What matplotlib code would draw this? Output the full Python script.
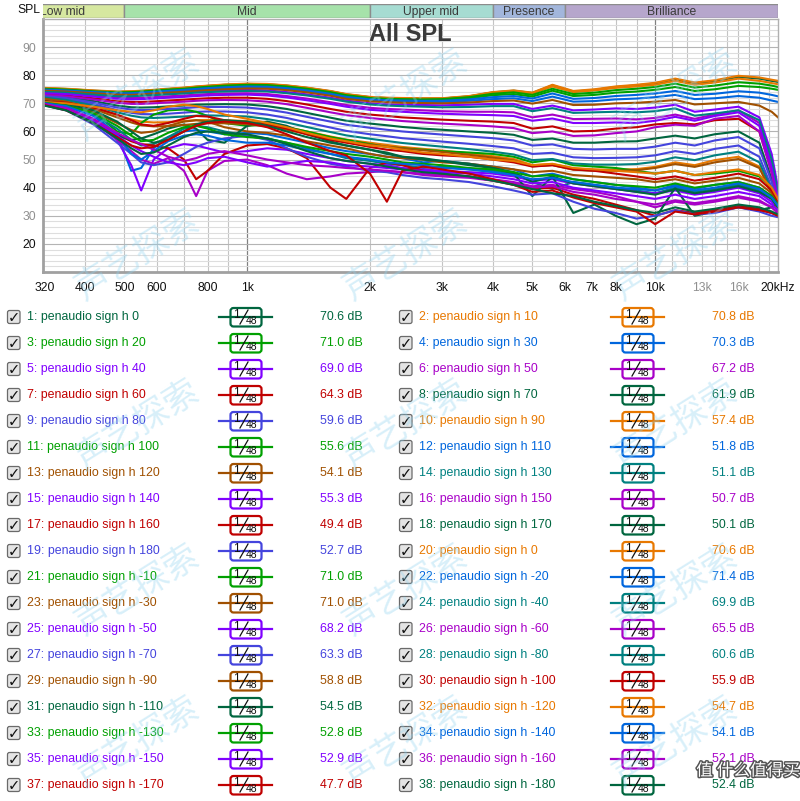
import matplotlib
matplotlib.use("Agg")
import matplotlib.pyplot as plt
import matplotlib.patheffects as pe
from matplotlib.patches import FancyBboxPatch, Rectangle
from matplotlib.lines import Line2D

plt.rcParams['font.family'] = ['Liberation Sans', 'DejaVu Sans']

# ---- data ----
freqs = [316, 360, 420, 480, 520, 550, 590, 640, 700, 750,
         800, 880, 1000, 1120, 1250, 1400, 1600, 1750, 2000, 2200,
         2400, 2700, 3000, 3500, 4000, 4500, 5000, 5600, 6300, 7100,
         8000, 9000, 10000, 11200, 12500, 14000, 16000, 18000, 19300, 20000]

angles = [0, 10, 20, 30, 40, 50, 60, 70, 80, 90, 100, 110, 120, 130, 140, 150, 160, 170, 180,
          0, -10, -20, -30, -40, -50, -60, -70, -80, -90, -100, -110, -120, -130, -140, -150,
          -160, -170, -180]

avg_db = [70.6, 70.8, 71.0, 70.3, 69.0, 67.2, 64.3, 61.9, 59.6, 57.4, 55.6, 51.8, 54.1,
          51.1, 55.3, 50.7, 49.4, 50.1, 52.7, 70.6, 71.0, 71.4, 71.0, 69.9, 68.2, 65.5,
          63.3, 60.6, 58.8, 55.9, 54.5, 54.7, 52.8, 54.1, 52.9, 52.1, 47.7, 52.4]

DG, OR, GR, BL = '#00663f', '#e87800', '#00a000', '#0066dd'
VI, MA, RD, BV = '#8000ff', '#a800c8', '#c00000', '#4444dd'
BR, TE = '#a05000', '#008080'
trace_colors = [DG, OR, GR, BL, VI, MA, RD, DG, BV, OR, GR, BL, BR, TE, VI, MA, RD, DG, BV,
                OR, GR, BL, BR, TE, VI, MA, BV, TE, BR, RD, DG, OR, GR, BL, VI, MA, RD, DG]

h0 = [75.4, 75.1, 74.5, 74.1, 74.2, 74.4, 74.7, 75.1, 75.5, 75.9,
      76.2, 76.6, 76.9, 76.8, 76.3, 75.5, 74.3, 73.2, 72.2, 71.9,
      71.8, 71.7, 71.7, 72.5, 73.9, 74.5, 73.7, 76.4, 74.2, 74.8,
      75.8, 76.4, 77.1, 78.5, 77.1, 77.9, 79.4, 78.8, 78.0, 77.6]
h10 = [75.3, 75.0, 74.4, 74.0, 74.1, 74.3, 74.6, 75.0, 75.4, 75.8,
       76.1, 76.5, 76.8, 76.7, 76.2, 75.4, 74.2, 73.1, 72.1, 71.8,
       71.7, 71.6, 71.7, 72.4, 73.8, 74.3, 73.5, 76.0, 74.0, 74.6,
       75.5, 76.0, 76.6, 78.0, 76.6, 77.4, 78.8, 78.0, 77.2, 76.8]
h20 = [75.0, 74.7, 74.1, 73.7, 73.8, 74.0, 74.3, 74.6, 75.0, 75.4,
       75.7, 76.0, 76.3, 76.2, 75.7, 74.9, 73.7, 72.6, 71.7, 71.4,
       71.3, 71.2, 71.2, 71.8, 72.9, 73.3, 72.4, 74.5, 72.6, 73.0,
       73.8, 74.2, 74.8, 75.8, 74.4, 75.0, 76.2, 75.8, 75.2, 74.8]
h30 = [74.7, 74.4, 73.8, 73.3, 73.3, 73.5, 73.8, 74.1, 74.4, 74.7,
       75.0, 75.3, 75.6, 75.5, 75.0, 74.2, 73.0, 71.9, 71.0, 70.7,
       70.6, 70.5, 70.5, 70.9, 71.5, 71.8, 70.8, 72.4, 70.6, 70.8,
       71.4, 71.7, 72.2, 73.0, 71.5, 71.8, 72.6, 72.0, 71.0, 70.5]
h40 = [74.3, 74.0, 73.3, 72.8, 72.8, 73.0, 73.2, 73.5, 73.8, 74.1,
       74.3, 74.6, 74.8, 74.6, 74.0, 73.2, 72.0, 71.0, 70.0, 69.6,
       69.5, 69.4, 69.3, 69.5, 69.8, 69.8, 68.0, 69.2, 67.5, 67.8,
       68.2, 68.0, 68.5, 69.5, 67.0, 67.8, 68.8, 65.0, 52.0, 40.0]
h50 = [73.8, 73.5, 72.7, 72.0, 71.9, 72.0, 72.2, 72.5, 72.8, 73.1,
       73.3, 73.5, 73.6, 73.3, 72.6, 71.7, 70.4, 69.4, 68.4, 68.0,
       67.8, 67.5, 67.2, 67.0, 67.0, 66.8, 65.0, 66.0, 64.4, 64.5,
       64.6, 64.3, 64.8, 66.0, 64.5, 66.0, 67.5, 63.0, 48.0, 37.0]
h60 = [73.2, 72.8, 71.8, 70.8, 70.5, 70.5, 70.7, 71.0, 71.3, 71.6,
       71.8, 72.0, 72.0, 71.6, 70.8, 69.6, 68.0, 67.0, 66.0, 65.5,
       65.0, 64.6, 64.2, 63.8, 63.5, 63.0, 61.0, 61.8, 60.0, 60.2,
       61.0, 61.5, 62.5, 63.0, 62.5, 64.0, 64.5, 60.0, 46.0, 35.0]
h70 = [72.8, 72.2, 70.8, 69.2, 68.6, 68.5, 68.6, 68.9, 69.2, 69.5,
       69.6, 69.7, 69.6, 69.0, 68.0, 66.6, 64.9, 63.8, 62.8, 62.2,
       61.6, 61.0, 60.6, 60.0, 59.5, 58.8, 57.0, 57.5, 56.0, 56.0,
       56.4, 56.5, 57.5, 58.5, 57.5, 59.0, 60.0, 56.0, 43.0, 34.0]
h80 = [72.3, 71.5, 69.7, 67.6, 66.6, 66.2, 66.1, 66.3, 66.7, 67.0,
       67.1, 67.1, 66.8, 66.0, 64.8, 63.2, 61.4, 60.2, 59.0, 58.3,
       57.6, 57.0, 56.4, 55.6, 54.8, 54.0, 52.0, 52.4, 50.8, 50.5,
       50.6, 50.8, 51.5, 53.0, 52.0, 53.8, 55.0, 51.0, 40.0, 33.0]
h90 = [71.9, 70.9, 68.6, 65.8, 64.3, 63.5, 63.2, 63.3, 63.7, 64.0,
       64.1, 64.0, 63.7, 62.8, 61.6, 60.0, 58.2, 57.1, 56.0, 55.2,
       54.5, 53.8, 53.2, 52.2, 51.2, 50.2, 48.0, 48.4, 46.8, 46.4,
       46.4, 46.6, 47.4, 49.0, 48.0, 49.8, 51.0, 47.5, 38.5, 32.0]
h100 = [71.0, 70.0, 67.0, 60.0, 59.0, 63.0, 66.0, 67.5, 67.8, 67.0,
        65.5, 63.0, 62.0, 62.5, 61.5, 60.0, 58.0, 57.0, 55.5, 54.5,
        54.0, 53.5, 53.0, 52.5, 52.0, 51.0, 49.0, 50.0, 48.0, 47.5,
        47.0, 46.0, 45.0, 46.0, 44.5, 45.0, 46.0, 44.0, 40.0, 36.0]
h110 = [70.5, 69.5, 66.0, 59.0, 46.0, 47.0, 54.0, 58.0, 60.0, 60.5,
        60.0, 59.0, 59.5, 59.0, 57.5, 56.0, 54.0, 53.0, 52.0, 51.0,
        50.5, 49.0, 49.5, 48.5, 47.5, 46.5, 44.0, 45.0, 43.0, 42.0,
        41.0, 40.0, 39.0, 41.0, 39.5, 41.0, 42.0, 40.0, 37.0, 34.0]
h120 = [70.4, 69.5, 67.0, 63.0, 60.5, 59.5, 60.0, 62.0, 63.5, 64.0,
        63.5, 61.5, 60.0, 59.5, 58.5, 56.5, 55.0, 54.0, 52.0, 51.0,
        50.5, 50.0, 49.0, 48.5, 47.5, 46.5, 45.5, 46.0, 44.5, 44.0,
        43.5, 43.0, 42.0, 43.0, 41.5, 42.5, 43.5, 41.5, 38.0, 34.0]
h130 = [70.2, 69.0, 66.0, 61.0, 57.0, 55.0, 55.5, 58.0, 61.0, 62.0,
        61.5, 60.0, 58.5, 57.5, 56.0, 54.0, 52.0, 50.5, 49.5, 48.5,
        48.0, 47.0, 47.5, 46.5, 46.0, 45.0, 42.0, 39.5, 42.0, 41.0,
        40.0, 39.0, 38.0, 40.0, 38.5, 39.5, 41.0, 39.0, 36.0, 33.0]
h140 = [70.0, 68.5, 64.5, 57.0, 48.0, 39.0, 50.0, 54.0, 55.5, 55.0,
        54.0, 52.5, 53.0, 54.0, 53.5, 52.0, 50.5, 49.5, 48.5, 48.0,
        47.0, 46.5, 46.0, 45.5, 45.0, 44.0, 42.5, 43.0, 41.5, 40.5,
        39.5, 38.5, 38.0, 39.0, 37.5, 38.5, 40.0, 38.0, 35.0, 32.0]
h150 = [69.8, 68.0, 63.5, 57.0, 53.0, 50.0, 48.5, 50.5, 46.0, 37.0,
        46.0, 49.5, 50.0, 48.0, 45.0, 43.0, 44.0, 45.0, 45.5, 46.0,
        45.5, 45.0, 44.5, 44.0, 43.0, 42.0, 40.5, 41.0, 39.5, 38.5,
        37.0, 35.0, 33.0, 35.0, 34.0, 35.0, 36.5, 35.0, 33.0, 31.0]
h160 = [69.7, 68.0, 64.0, 59.0, 56.5, 55.5, 55.0, 54.0, 50.0, 43.0,
        46.0, 52.0, 55.0, 55.5, 54.0, 50.5, 40.0, 36.0, 47.0, 49.0,
        48.0, 46.0, 45.0, 44.0, 42.5, 41.0, 39.5, 40.0, 37.5, 36.0,
        34.0, 32.0, 30.0, 32.0, 31.0, 32.0, 33.5, 32.5, 31.0, 30.0]
h170 = [69.6, 67.8, 63.5, 58.5, 57.0, 57.5, 59.0, 61.0, 62.5, 61.0,
        57.0, 56.0, 62.0, 63.5, 62.0, 59.0, 56.5, 55.0, 53.5, 52.5,
        51.0, 50.0, 49.5, 48.0, 47.0, 45.0, 37.0, 44.0, 31.0, 34.0,
        30.0, 27.0, 29.0, 40.0, 30.0, 31.5, 33.0, 32.0, 33.0, 34.0]
h180 = [69.4, 67.5, 62.5, 56.0, 52.0, 49.0, 48.0, 49.0, 52.0, 54.5,
        56.0, 57.5, 58.5, 57.0, 54.0, 51.0, 48.5, 47.5, 46.0, 45.5,
        44.5, 43.5, 43.0, 42.0, 40.5, 39.0, 37.5, 38.0, 35.0, 32.5,
        31.0, 29.0, 30.0, 32.0, 30.5, 31.0, 33.0, 31.5, 30.0, 29.5]
h0b = [75.5, 75.2, 74.6, 74.2, 74.3, 74.5, 74.8, 75.2, 75.6, 76.0,
       76.3, 76.7, 77.0, 76.9, 76.4, 75.6, 74.4, 73.3, 72.3, 72.0,
       71.9, 71.8, 71.8, 72.6, 74.0, 74.6, 73.8, 76.6, 74.4, 75.0,
       76.0, 76.6, 77.3, 78.8, 77.4, 78.2, 79.8, 79.2, 78.4, 78.0]
hm10 = [75.2, 74.9, 74.3, 73.9, 74.0, 74.2, 74.5, 74.9, 75.2, 75.6,
        75.9, 76.3, 76.6, 76.5, 76.0, 75.2, 74.0, 72.9, 71.9, 71.6,
        71.5, 71.4, 71.5, 72.2, 73.4, 73.9, 73.0, 75.2, 73.3, 73.8,
        74.7, 75.2, 75.8, 77.0, 75.6, 76.3, 77.5, 77.0, 76.3, 75.8]
hm20 = [74.9, 74.6, 74.0, 73.6, 73.6, 73.8, 74.1, 74.4, 74.8, 75.1,
        75.4, 75.7, 76.0, 75.9, 75.4, 74.6, 73.4, 72.3, 71.4, 71.1,
        71.0, 70.9, 70.9, 71.4, 72.2, 72.6, 71.7, 73.5, 71.6, 71.9,
        72.6, 73.0, 73.5, 74.4, 73.0, 73.4, 74.3, 73.8, 73.0, 72.5]
hm30 = [74.5, 74.2, 73.6, 73.1, 73.0, 73.2, 73.5, 73.8, 74.1, 74.4,
        74.7, 75.0, 75.3, 75.2, 74.7, 73.9, 72.7, 71.6, 70.7, 70.4,
        70.2, 70.1, 70.0, 70.3, 70.8, 71.0, 69.9, 71.2, 69.4, 69.5,
        70.0, 70.2, 70.6, 71.2, 69.6, 70.0, 70.5, 69.2, 67.0, 65.0]
hm40 = [74.1, 73.8, 73.1, 72.5, 72.5, 72.7, 72.9, 73.2, 73.5, 73.8,
        74.0, 74.2, 74.4, 74.2, 73.6, 72.8, 71.6, 70.6, 69.6, 69.2,
        69.0, 68.8, 68.6, 68.7, 69.0, 69.0, 67.2, 68.3, 66.6, 66.8,
        67.0, 66.8, 67.2, 68.2, 65.6, 66.4, 67.5, 64.0, 50.0, 38.0]
hm50 = [73.6, 73.3, 72.4, 71.6, 71.4, 71.5, 71.7, 72.0, 72.3, 72.6,
        72.8, 73.0, 73.1, 72.8, 72.1, 71.1, 69.8, 68.8, 67.7, 67.3,
        67.0, 66.6, 66.3, 66.0, 65.8, 65.5, 63.8, 64.6, 63.0, 63.0,
        63.2, 63.0, 63.8, 65.2, 63.8, 65.5, 66.8, 62.0, 47.0, 36.0]
hm60 = [73.0, 72.5, 71.4, 70.2, 69.8, 69.8, 70.0, 70.3, 70.6, 70.9,
        71.1, 71.2, 71.1, 70.6, 69.7, 68.4, 66.8, 65.8, 64.8, 64.2,
        63.7, 63.2, 62.8, 62.3, 61.8, 61.2, 59.4, 60.0, 58.4, 58.6,
        59.4, 60.0, 61.5, 62.4, 62.0, 64.5, 65.5, 60.0, 45.0, 34.5]
hm70 = [72.6, 71.9, 70.3, 68.5, 67.8, 67.6, 67.7, 68.0, 68.3, 68.6,
        68.7, 68.7, 68.5, 67.8, 66.7, 65.2, 63.5, 62.4, 61.3, 60.6,
        60.0, 59.4, 58.9, 58.2, 57.6, 56.8, 55.0, 55.4, 53.8, 53.6,
        53.8, 53.8, 54.6, 56.0, 55.0, 56.8, 58.0, 54.0, 42.0, 33.5]
hm80 = [72.1, 71.2, 69.2, 66.8, 65.6, 65.0, 64.8, 65.0, 65.3, 65.6,
        65.7, 65.6, 65.3, 64.4, 63.2, 61.6, 59.8, 58.6, 57.4, 56.6,
        55.9, 55.2, 54.6, 53.7, 52.8, 51.8, 49.8, 50.2, 48.6, 48.2,
        48.2, 48.4, 49.2, 50.8, 49.8, 51.5, 52.8, 49.0, 39.0, 32.5]
hm90 = [71.7, 70.6, 68.0, 65.0, 63.2, 62.2, 61.8, 61.9, 62.3, 62.7,
        62.9, 62.9, 62.6, 61.8, 60.6, 59.1, 57.4, 56.4, 55.3, 54.6,
        54.0, 53.3, 52.7, 51.7, 50.7, 49.7, 47.6, 48.0, 46.4, 46.0,
        46.0, 46.2, 47.0, 48.4, 47.4, 49.0, 50.2, 47.0, 38.0, 31.5]
hm100 = [70.8, 70.2, 68.5, 66.0, 64.0, 62.5, 62.0, 63.0, 64.5, 65.5,
         65.3, 64.0, 63.0, 62.5, 61.0, 59.0, 57.0, 56.0, 54.5, 53.5,
         53.0, 52.0, 51.5, 51.0, 50.0, 49.0, 47.5, 48.0, 46.5, 46.0,
         45.0, 44.0, 43.0, 44.0, 42.5, 43.5, 45.0, 43.0, 39.0, 35.0]
hm110 = [70.6, 69.8, 67.5, 63.5, 60.0, 57.5, 56.0, 57.0, 60.0, 62.5,
         63.5, 64.0, 63.5, 62.0, 60.0, 58.0, 56.0, 55.0, 53.5, 52.0,
         51.0, 50.5, 49.5, 48.5, 47.0, 45.5, 42.0, 44.0, 41.5, 40.5,
         39.5, 38.5, 37.5, 39.5, 38.0, 39.0, 40.5, 38.5, 36.0, 33.0]
hm120 = [70.5, 70.0, 68.8, 67.5, 67.0, 66.8, 67.5, 68.8, 69.5, 69.0,
         68.0, 66.0, 64.5, 63.0, 61.5, 59.5, 57.5, 56.5, 55.0, 54.5,
         53.5, 52.5, 52.0, 51.0, 50.0, 49.5, 48.0, 48.5, 47.0, 46.5,
         46.0, 45.5, 45.0, 46.0, 44.5, 45.5, 46.5, 44.5, 40.0, 36.0]
hm130 = [70.3, 69.2, 66.5, 62.0, 58.5, 56.5, 57.0, 59.5, 61.5, 62.0,
         61.0, 59.0, 58.0, 57.5, 56.0, 54.5, 53.0, 52.0, 51.0, 50.0,
         49.0, 48.5, 48.0, 47.0, 46.5, 45.5, 44.0, 44.5, 43.0, 42.0,
         41.0, 40.5, 40.0, 41.5, 40.0, 41.0, 42.0, 40.0, 37.0, 34.0]
hm140 = [70.1, 69.0, 65.5, 59.0, 52.0, 50.0, 53.0, 56.5, 58.5, 59.0,
         58.5, 57.0, 56.0, 56.0, 55.0, 53.5, 52.0, 51.0, 50.0, 49.0,
         48.5, 48.0, 47.0, 46.5, 45.5, 44.5, 43.0, 43.5, 42.0, 41.0,
         40.0, 39.5, 39.0, 40.5, 39.0, 40.0, 41.5, 39.5, 36.5, 33.5]
hm150 = [69.9, 68.2, 64.0, 58.5, 55.0, 53.0, 51.0, 49.0, 48.0, 49.0,
         50.5, 51.0, 49.0, 47.5, 48.5, 49.5, 49.0, 48.0, 47.5, 47.0,
         46.5, 46.0, 45.5, 45.0, 44.0, 43.0, 41.5, 42.0, 40.0, 39.0,
         38.0, 37.0, 36.0, 37.5, 36.0, 37.0, 38.5, 37.0, 34.0, 32.0]
hm160 = [69.8, 68.3, 64.5, 59.5, 57.0, 55.5, 53.5, 51.0, 49.5, 50.5,
         52.0, 53.0, 51.5, 50.0, 49.0, 48.0, 47.5, 47.0, 46.5, 46.0,
         45.5, 44.5, 44.0, 43.5, 42.5, 41.5, 40.0, 40.5, 38.5, 37.5,
         36.0, 35.0, 34.0, 35.5, 34.5, 35.5, 37.0, 35.5, 33.0, 31.0]
hm170 = [69.5, 67.5, 63.0, 58.0, 55.0, 54.0, 54.5, 57.0, 60.0, 62.0,
         63.0, 63.5, 63.0, 61.5, 59.0, 56.0, 53.0, 51.5, 45.0, 35.0,
         46.0, 47.5, 46.5, 45.0, 43.0, 41.0, 38.5, 39.0, 36.5, 34.5,
         33.0, 31.5, 27.0, 31.5, 30.5, 31.5, 33.0, 32.0, 31.0, 30.0]
hm180 = [69.3, 67.5, 63.0, 57.5, 54.0, 52.0, 52.5, 55.0, 58.0, 59.5,
         60.0, 59.5, 59.0, 57.5, 55.5, 53.0, 50.5, 49.5, 48.5, 47.5,
         46.5, 45.5, 45.0, 44.0, 42.5, 41.0, 39.5, 38.0, 37.0, 35.0,
         33.5, 32.0, 31.0, 33.0, 31.5, 32.5, 34.0, 33.0, 31.5, 30.5]

traces = [h0, h10, h20, h30, h40, h50, h60, h70, h80, h90, h100, h110, h120, h130,
          h140, h150, h160, h170, h180, h0b, hm10, hm20, hm30, hm40, hm50, hm60, hm70,
          hm80, hm90, hm100, hm110, hm120, hm130, hm140, hm150, hm160, hm170, hm180]

bands = ["Low mid", "Mid", "Upper mid", "Presence", "Brilliance"]
band_edges = [(250, 500), (500, 2000), (2000, 4000), (4000, 6000), (6000, 20000)]
band_colors = ['#d6e8a0', '#a6e2aa', '#a6dcd2', '#a2b6dc', '#b6a6cc']

xtick_vals = [320, 400, 500, 600, 800, 1000, 2000, 3000, 4000, 5000, 6000, 7000, 8000,
              10000, 13000, 16000, 20000]
xtick_text = ["320", "400", "500", "600", "800", "1k", "2k", "3k", "4k", "5k", "6k", "7k",
              "8k", "10k", "13k", "16k", "20kHz"]

# ---- figure ----
W, H = 800, 801
fig = plt.figure(figsize=(8, 8.01), dpi=100)


def fx(px):
    return px / W


def fy(py):
    return 1 - py / H


ax = fig.add_axes([fx(43), fy(272), fx(778) - fx(43), fy(19) - fy(272)])
ax.set_xscale('log')
ax.set_xlim(316, 20000)
ax.set_ylim(10, 100)

# grid
vgrid = list(range(400, 1000, 100)) + list(range(2000, 10000, 1000)) + list(range(11000, 20000, 1000))
for f in vgrid:
    ax.axvline(f, color='#c4c4c4', lw=0.8, zorder=0)
for f in [1000, 10000]:
    ax.axvline(f, color='#808080', lw=0.9, zorder=0)
for y in range(12, 100, 2):
    ax.axhline(y, color='#b4b4b4' if y % 10 == 0 else '#dedede', lw=0.8, zorder=0)

for vals, c in zip(traces, trace_colors):
    ax.plot(freqs, vals, color=c, lw=1.5, solid_joinstyle='round', zorder=2)

ax.set_xticks(xtick_vals)
ax.set_xticklabels(xtick_text)
ax.xaxis.set_minor_locator(matplotlib.ticker.NullLocator())
ax.set_yticks(range(20, 100, 10))
ax.tick_params(length=0, labelsize=8.7, pad=5)
ax.tick_params(axis='x', pad=7)
for t, v in zip(ax.get_xticklabels(), xtick_vals):
    t.set_color('#909090' if v in (13000, 16000) else '#111111')
for t, v in zip(ax.get_yticklabels(), range(20, 100, 10)):
    t.set_color('#909090' if (v // 10) % 2 == 1 else '#111111')
for s in ['top', 'right']:
    ax.spines[s].set_color('#b0b0b0')
    ax.spines[s].set_linewidth(1.0)
for s in ['left', 'bottom']:
    ax.spines[s].set_color('#a0a0a0')
    ax.spines[s].set_linewidth(2.0)

ax.text(0.5, 0.94, "All SPL", transform=ax.transAxes, ha='center', va='center',
        fontsize=17, fontweight='bold', color='#3a3a3a', zorder=5)

# band strip
bax = fig.add_axes([fx(43), fy(18), fx(778) - fx(43), fy(4) - fy(18)])
bax.set_xscale('log')
bax.set_xlim(316, 20000)
bax.set_ylim(0, 1)
bax.axis('off')
for name, (a, b), c in zip(bands, band_edges, band_colors):
    bax.add_patch(Rectangle((a, 0), b - a, 1, facecolor=c, edgecolor='#8c8c8c', lw=1.0))
    bax.text((a * b) ** 0.5, 0.45, name, ha='center', va='center', fontsize=8.7,
             color='#3a3a3a', clip_on=True)
fig.text(fx(29), fy(10), "SPL", ha='center', va='center', fontsize=8.7, color='#111111')

# legend and overlays in pixel coordinates
lax = fig.add_axes([0, 0, 1, 1])
lax.set_xlim(0, W)
lax.set_ylim(H, 0)
lax.axis('off')

for i, (ang, val, c) in enumerate(zip(angles, avg_db, trace_colors)):
    col, row = i % 2, i // 2
    y = 317 + 26 * row
    x0 = 0 if col == 0 else 392
    lax.add_patch(FancyBboxPatch((x0 + 7.5, y - 6.5), 12.5, 13, boxstyle="round,pad=0,rounding_size=2",
                                 facecolor='#e4e4e4', edgecolor='#6a6a6a', lw=0.9))
    lax.text(x0 + 14, y + 0.5, "\u2713", ha='center', va='center', fontsize=10.5,
             fontweight='bold', family='DejaVu Sans', color='#111111')
    lax.text(x0 + 27, y, f"{i + 1}: penaudio sign h {ang}", ha='left', va='center',
             fontsize=8.9, color=c)
    lax.add_line(Line2D([x0 + 219, x0 + 272], [y, y], color=c, lw=1.6))
    lax.add_patch(FancyBboxPatch((x0 + 230.5, y - 9), 31, 18.5, boxstyle="round,pad=0,rounding_size=3",
                                 facecolor='white', edgecolor=c, lw=1.6))
    lax.text(x0 + 236, y - 1.5, "1", ha='center', va='center', fontsize=8.5, color='#111111')
    lax.add_line(Line2D([x0 + 240, x0 + 248], [y + 7, y - 7], color='#111111', lw=0.9))
    lax.text(x0 + 251.5, y + 4.5, "48", ha='center', va='center', fontsize=7.5, color='#111111')
    lax.text(x0 + 320, y, f"{val:.1f} dB", ha='left', va='center', fontsize=8.9, color=c)

# watermarks
for wy in [95, 255, 425, 590, 742]:
    for wx in [137, 405, 675]:
        lax.text(wx, wy, "声艺探索", ha='center', va='center', fontsize=25, rotation=32,
                 color='#8fd3f0', alpha=0.35, family=['Noto Sans CJK SC', 'DejaVu Sans'],
                 zorder=10)
lax.text(748, 771, "值 什么值得买", ha='center', va='center', fontsize=12, color='white',
         family=['Noto Sans CJK SC', 'DejaVu Sans'], zorder=11,
         path_effects=[pe.withStroke(linewidth=2.2, foreground='#555555')])

fig.savefig("out.png", dpi=100, facecolor='white')
